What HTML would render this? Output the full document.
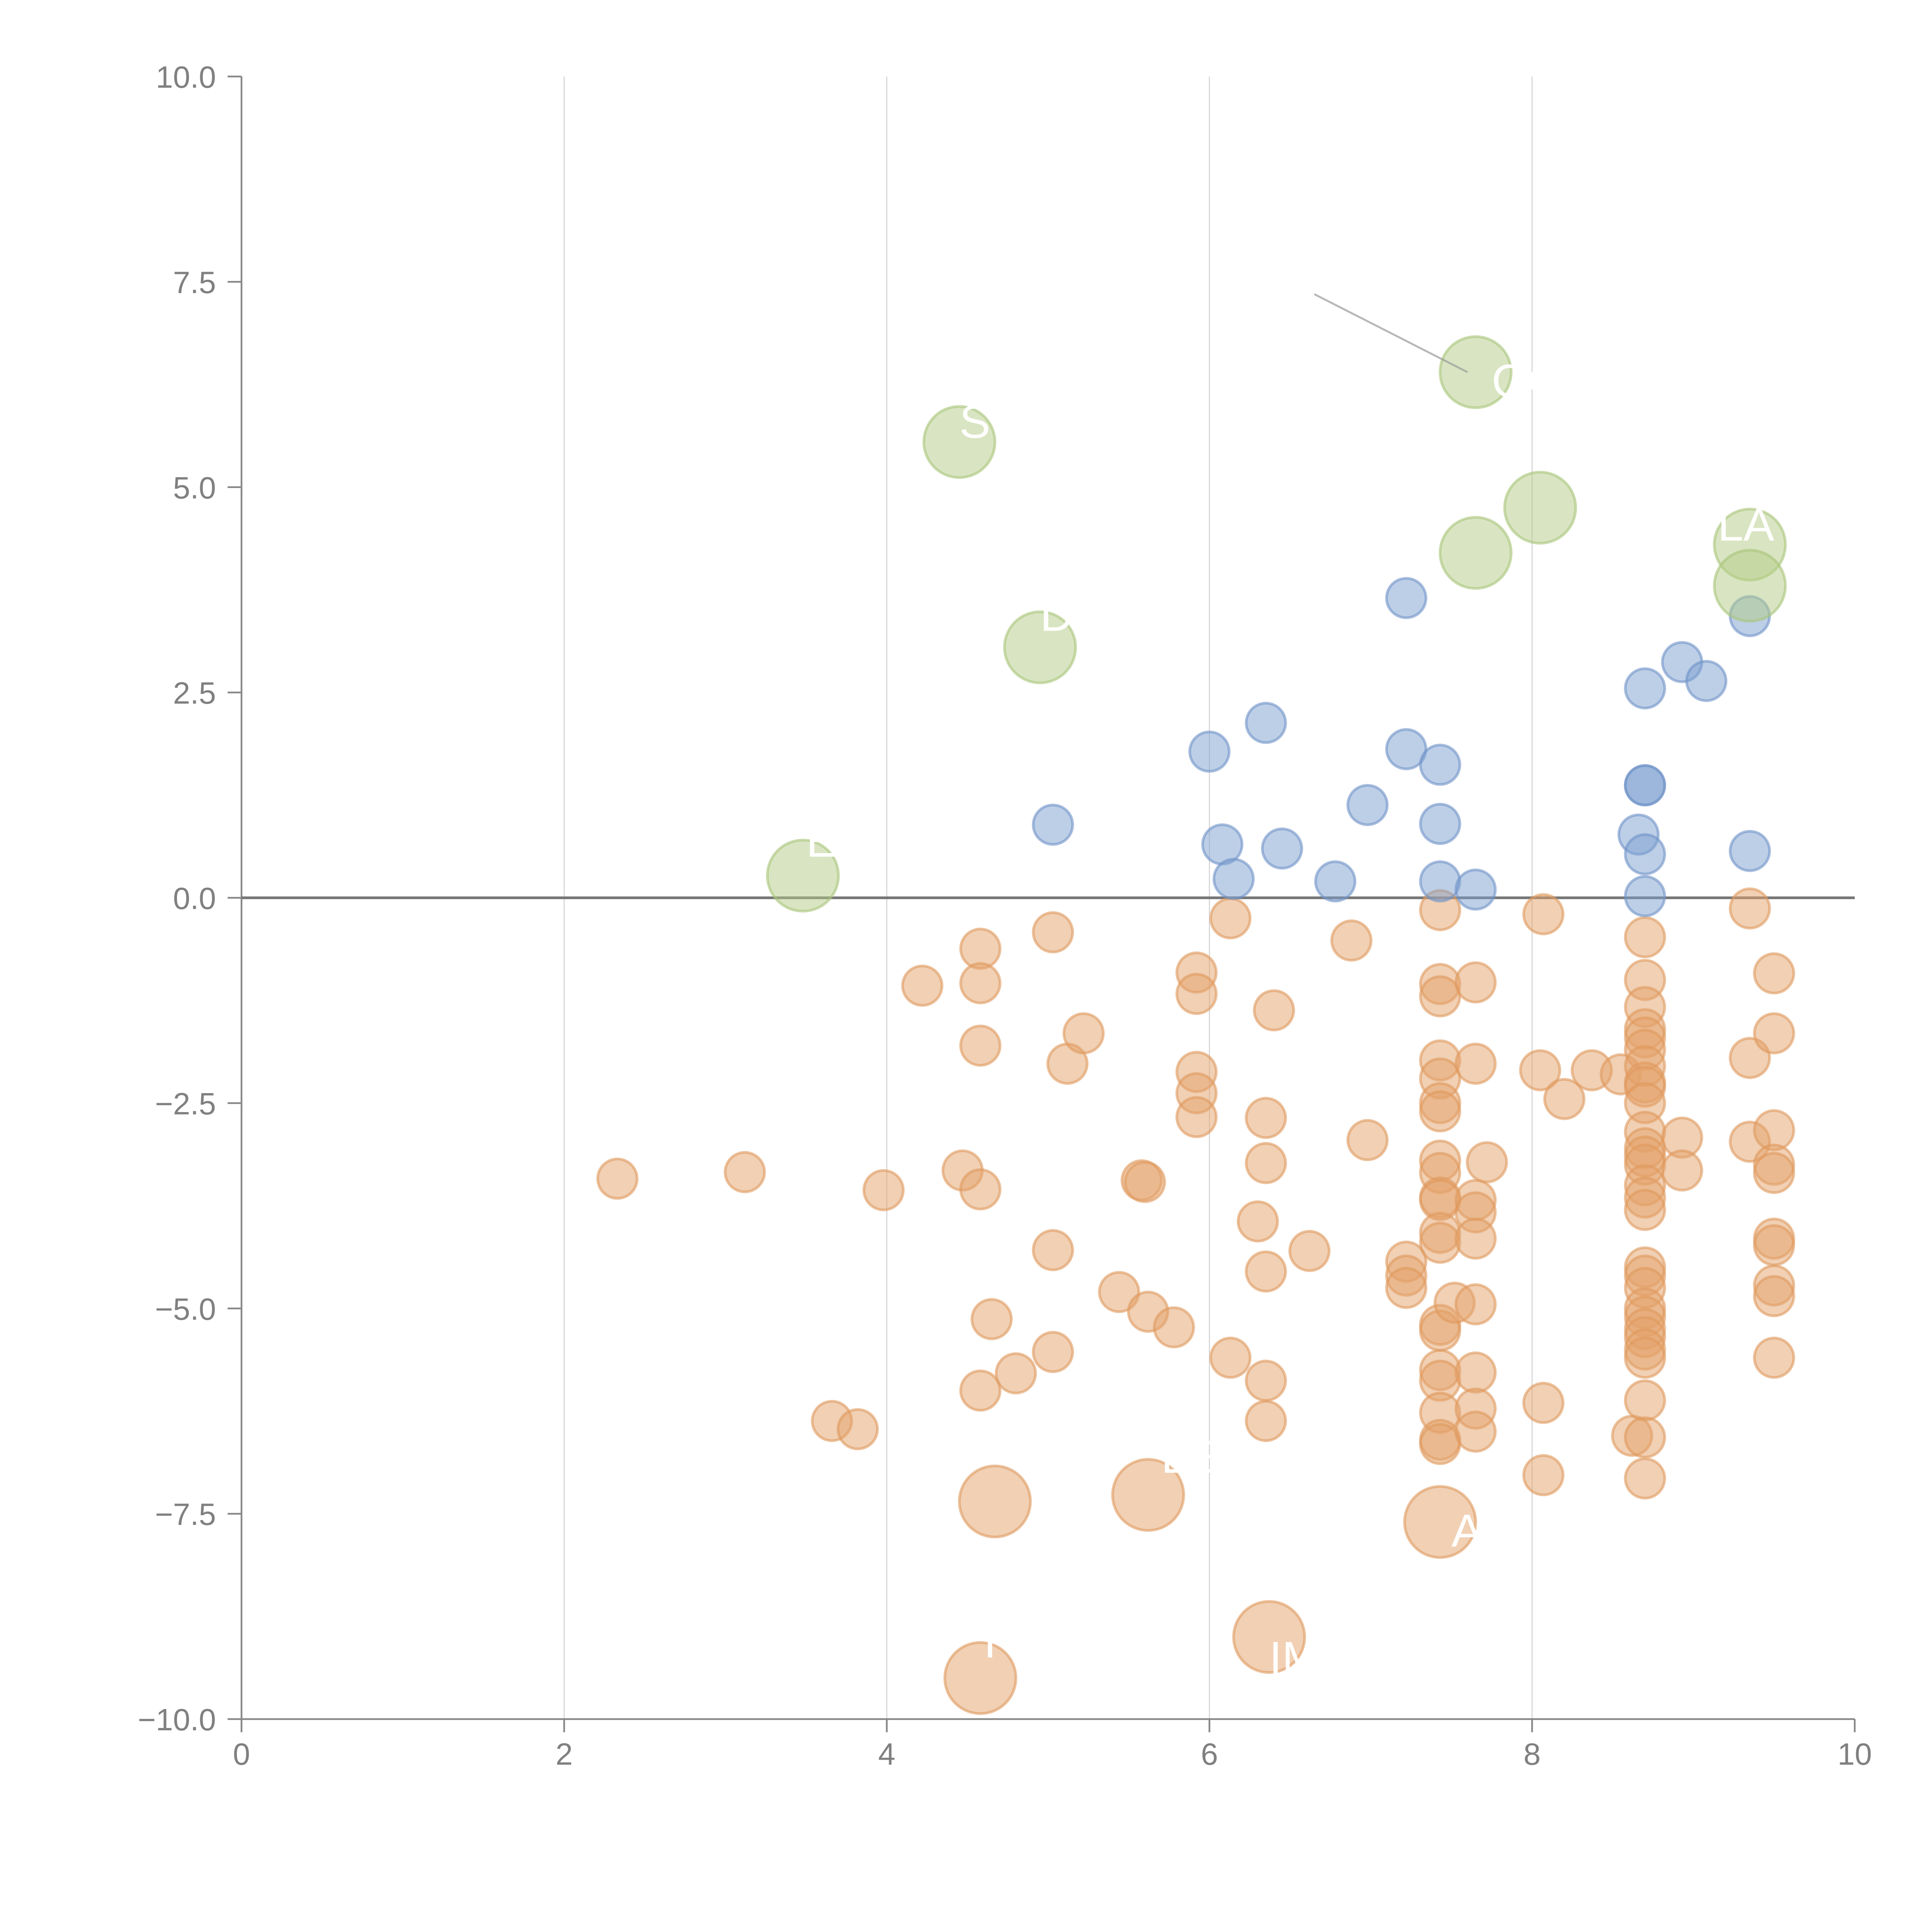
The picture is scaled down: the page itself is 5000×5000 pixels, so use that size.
<!DOCTYPE html>
<html><head><meta charset="utf-8"><style>html,body{margin:0;padding:0;background:#fff}svg{display:block}</style></head>
<body>
<svg id="chart" width="5000" height="5000" viewBox="0 0 5000 5000" xmlns="http://www.w3.org/2000/svg" font-family="'Liberation Sans', sans-serif">
<g id="grid"></g>
<g id="axes"></g>
<g id="marks"></g>
<g id="labels"></g>
</svg>
<script>
const xTicks = [0,2,4,6,8,10];
const yTicks = [-10,-7.5,-5,-2.5,0,2.5,5,7.5,10];
const greenX = [7.65,4.45,8.05,7.65,9.35,9.35,4.95,3.48];
const greenY = [6.4,5.55,4.75,4.2,4.3,3.8,3.05,0.27];
const bigOrangeX = [4.67,5.62,7.43,6.37,4.58];
const bigOrangeY = [-7.35,-7.27,-7.6,-9.0,-9.5];
const blueX = [7.22,9.35,8.93,9.08,8.7,6.35,6.0,7.22,7.43,8.7,8.7,6.98,5.03,7.43,6.08,6.45,8.66,8.7,9.35,6.15,6.78,7.43,7.65,8.7];
const blueY = [3.65,3.43,2.87,2.64,2.55,2.13,1.78,1.81,1.62,1.37,1.37,1.13,0.89,0.9,0.65,0.6,0.77,0.53,0.57,0.23,0.2,0.2,0.1,0.02];
const orangeX = [2.33,3.12,3.98,3.66,3.82,4.22,4.47,4.58,4.58,4.58,4.58,4.58,4.65,4.8,5.03,5.03,5.03,5.12,5.22,5.44,5.58,5.6,5.62,5.78,5.92,5.92,5.92,5.92,5.92,6.13,6.13,6.3,6.35,6.35,6.35,6.35,6.35,6.4,6.62,6.88,6.98,7.22,7.22,7.22,7.43,7.43,7.43,7.43,7.43,7.43,7.43,7.43,7.43,7.43,7.43,7.43,7.43,7.43,7.43,7.43,7.43,7.43,7.43,7.43,7.52,7.65,7.65,7.65,7.65,7.65,7.65,7.65,7.65,7.65,7.72,8.05,8.07,8.07,8.07,8.2,8.37,8.55,8.62,8.7,8.7,8.7,8.7,8.7,8.7,8.7,8.7,8.7,8.7,8.7,8.7,8.7,8.7,8.7,8.7,8.7,8.7,8.7,8.7,8.7,8.7,8.7,8.7,8.7,8.7,8.7,8.7,8.7,8.93,8.93,9.35,9.35,9.35,9.5,9.5,9.5,9.5,9.5,9.5,9.5,9.5,9.5,9.5];
const orangeY = [-3.42,-3.34,-3.56,-6.37,-6.47,-1.07,-3.32,-0.62,-1.04,-1.8,-3.55,-6.0,-5.13,-5.79,-0.42,-4.29,-5.53,-2.02,-1.65,-4.8,-3.44,-3.46,-5.04,-5.23,-0.91,-1.17,-2.12,-2.38,-2.67,-0.25,-5.6,-3.94,-2.68,-3.23,-4.55,-5.88,-6.37,-1.37,-4.3,-0.52,-2.95,-4.43,-4.6,-4.75,-0.15,-1.05,-1.2,-1.98,-2.2,-2.5,-2.6,-3.2,-3.35,-3.65,-3.68,-4.08,-4.2,-5.2,-5.27,-5.75,-5.88,-6.27,-6.6,-6.65,-4.93,-1.03,-2.02,-3.68,-3.83,-4.15,-4.95,-5.78,-6.22,-6.5,-3.22,-2.1,-0.2,-6.15,-7.03,-2.45,-2.1,-2.15,-6.55,-0.48,-1.0,-1.33,-1.6,-1.7,-1.85,-2.05,-2.25,-2.3,-2.5,-2.85,-3.05,-3.15,-3.25,-3.5,-3.65,-3.8,-4.5,-4.6,-4.75,-5.0,-5.1,-5.25,-5.35,-5.5,-5.6,-6.12,-6.57,-7.07,-2.92,-3.32,-0.13,-1.95,-2.97,-0.92,-1.65,-2.83,-3.25,-3.35,-4.15,-4.23,-4.72,-4.85,-5.6];
const labelText = ['OC','S','LA','D','DE','EA','I','IM','AL','LE','CA'];
const labelX = [7.75,4.45,9.15,7.1,4.95,3.5,4.6,6.37,7.5,5.7,4.0];
const labelY = [6.1,5.6,4.35,4.2,3.25,0.5,-9.25,-9.45,-7.9,-7.0,-7.0];

const NS = "http://www.w3.org/2000/svg";
const X0 = 625, X1 = 4800, Y0 = 4449, Y1 = 198;
const sx = v => X0 + (v - 0) / 10 * (X1 - X0);
const sy = v => Y0 - (v + 10) / 20 * (Y0 - Y1);
function mk(tag, attrs, parent) {
  const e = document.createElementNS(NS, tag);
  for (const k in attrs) e.setAttribute(k, attrs[k]);
  parent.appendChild(e);
  return e;
}
const grid = document.getElementById('grid');
const axes = document.getElementById('axes');
const marks = document.getElementById('marks');
const labels = document.getElementById('labels');

xTicks.forEach(t => {
  if (t > 0 && t < 10) {
    const g = mk('line', {x1: sx(t), x2: sx(t), y1: Y1, y2: Y0, stroke: '#d0d0d0', 'stroke-width': 2.5}, grid);
    
    
  }
  const tk = mk('line', {x1: sx(t), x2: sx(t), y1: Y0, y2: Y0 + 34, stroke: '#888', 'stroke-width': 4.5}, axes);
  
  
  const lb = mk('text', {x: sx(t), y: Y0 + 118, 'text-anchor': 'middle', 'font-size': 80, fill: '#808080'}, axes);
  lb.textContent = String(t);
  
  
});
yTicks.forEach(t => {
  const tk = mk('line', {x1: X0 - 36, x2: X0, y1: sy(t), y2: sy(t), stroke: '#888', 'stroke-width': 4.5}, axes);
  
  
  const lb = mk('text', {x: X0 - 66, y: sy(t) + 29, 'text-anchor': 'end', 'font-size': 80, fill: '#808080'}, axes);
  lb.textContent = (t < 0 ? '\u2212' : '') + Math.abs(t).toFixed(1);
  
  
});
const xa = mk('line', {x1: X0, x2: X1, y1: Y0, y2: Y0, stroke: '#888', 'stroke-width': 4.5}, axes);


const ya = mk('line', {x1: X0, x2: X0, y1: Y1, y2: Y0, stroke: '#888', 'stroke-width': 4.5}, axes);


const zl = mk('line', {x1: X0, x2: X1, y1: sy(0), y2: sy(0), stroke: '#777', 'stroke-width': 7}, axes);



function series(xs, ys, r, fill, stroke, name) {
  xs.forEach((x, i) => {
    const c = mk('circle', {cx: sx(x), cy: sy(ys[i]), r: r, fill: fill, 'fill-opacity': 0.5, stroke: stroke, 'stroke-opacity': 0.6, 'stroke-width': 7}, marks);
    
    
  });
}
series(orangeX, orangeY, 51, '#e3a26a', '#e09a5e', 'orange-bubble');
series(blueX, blueY, 51, '#7b9fd0', '#6f93c8', 'blue-bubble');
series(greenX, greenY, 92, '#b4cc85', '#a9c57a', 'green-bubble');
series(bigOrangeX, bigOrangeY, 92, '#e3a26a', '#e09a5e', 'large-orange-bubble');

const ld = mk('line', {x1: sx(6.65), y1: sy(7.35), x2: sx(7.6), y2: sy(6.4), stroke: '#999', 'stroke-opacity': 0.7, 'stroke-width': 5}, marks);



labelText.forEach((t, i) => {
  const lb = mk('text', {x: sx(labelX[i]), y: sy(labelY[i]), 'font-size': 120, fill: '#fff'}, labels);
  lb.textContent = t;
  
  
});
</script>
</body></html>
